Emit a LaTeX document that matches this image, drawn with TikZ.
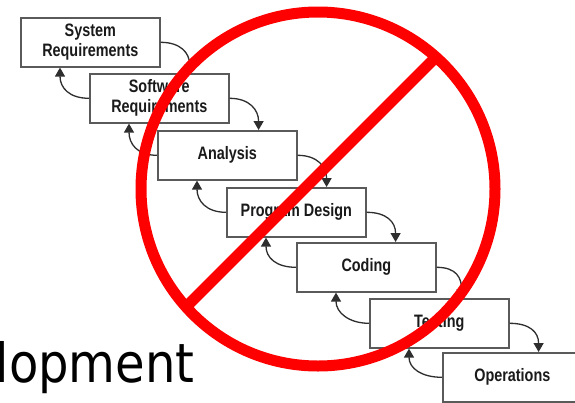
\documentclass[tikz,border=0pt]{standalone}
\usepackage{fontspec}
\setmainfont{Liberation Sans}
\newfontfamily\boxfont{Liberation Sans}[FakeStretch=0.8]
\newfontfamily\bigfont{DejaVu Sans}[FakeStretch=0.89]
\usetikzlibrary{arrows.meta,calc}
\definecolor{boxline}{HTML}{5A5A5A}
\definecolor{flowline}{HTML}{2E2E2E}
\definecolor{ink}{HTML}{1A1A1A}
\tikzset{
  stage/.style={draw=boxline, line width=1.6pt, fill=white,
    minimum width=139pt, minimum height=49pt, inner sep=0pt,
    anchor=north west, align=center, text=ink,
    font=\boxfont\bfseries\fontsize{18}{20}\selectfont},
  flow/.style={draw=flowline, line width=1.3pt,
    -{Triangle[width=10pt,length=9pt]}},
  forbid/.style={draw=red, line width=11pt}
}
\begin{document}
\begin{tikzpicture}[x=1pt,y=-1pt]
  \useasboundingbox (0,0) rectangle (575,402);
  \fill[white] (0,0) rectangle (575,402);
  \clip (0,0) rectangle (575,402);

  % waterfall stages
  \node[stage] (b1) at (20,17)  {System\\Requirements};
  \node[stage] (b2) at (89,73)  {Software\\Requirements};
  \node[stage] (b3) at (157,130) {Analysis};
  \node[stage] (b4) at (226,187) {Program Design};
  \node[stage] (b5) at (296,242) {Coding};
  \node[stage] (b6) at (369,298) {Testing};
  \node[stage] (b7) at (442,352) {Operations};

  % forward flow (right side down to next stage) and feedback (back up)
  \foreach \a/\b/\reach in {b1/b2/29,b2/b3/29,b3/b4/29,b4/b5/29,b5/b6/25,b6/b7/29}{
    \coordinate (fwd-\a) at ($(\a.east |- \b.north)+(\reach,0)$);
    \draw[flow] (\a.east) .. controls +(20,0) and +(0,-20) .. (fwd-\a);
    \coordinate (back-\b) at ($(\a.south west)+(40,0)$);
    \draw[flow] (\b.west) .. controls +(-20,0) and +(0,20) .. (back-\b);
  }

  % partially visible caption
  \node[anchor=base west, inner sep=0pt, text=black] (dev) at (-4.5,382)
    {\bigfont\fontsize{54}{60}\selectfont lopment};

  % prohibition sign
  \coordinate (ring) at (318,189);
  \coordinate (slashtop) at (435.5,57.5);
  \coordinate (slashbot) at (185.5,307.5);
  \draw[forbid] (ring) circle[radius=177];
  \draw[forbid] (slashtop) -- (slashbot);
\end{tikzpicture}
\end{document}
